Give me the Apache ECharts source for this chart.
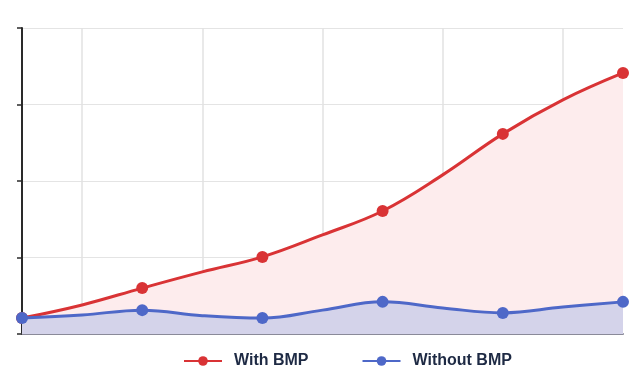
<!DOCTYPE html>
<html>
<head>
<meta charset="utf-8">
<script src="https://cdn.jsdelivr.net/npm/echarts@6/dist/echarts.min.js"></script>
<style>
  html, body { margin: 0; padding: 0; background: #fff; }
  #chart { width: 640px; height: 390px; }
</style>
</head>
<body>
<div id="chart"></div>
<script>
// 11 sample positions, markers only on even ones
const steps = ['0', '1', '2', '3', '4', '5', '6', '7', '8', '9', '10'];
const withBmp = [5.2, 9.5, 15, 20.3, 25.2, 32.4, 40.2, 52, 65.4, 76.5, 85.3];
const withoutBmp = [5.2, 6.2, 7.8, 6, 5.2, 7.8, 10.5, 8.5, 6.9, 8.8, 10.5];

const markEven = (v, p) => (p.dataIndex % 2 === 0 ? 12 : 0);

const chart = echarts.init(document.getElementById('chart'));
chart.setOption({
  animation: false,
  grid: { left: 22, right: 17, top: 28, bottom: 56 },
  legend: {
    bottom: 16,
    left: 178,
    itemWidth: 38,
    itemHeight: 12,
    itemGap: 53,
    textStyle: {
      color: '#1e2a44',
      fontSize: 16,
      fontWeight: 'bold',
      fontFamily: 'Liberation Sans, Arial, sans-serif',
      padding: [0, 0, 0, 7]
    },
    data: ['With BMP', 'Without BMP']
  },
  xAxis: {
    type: 'category',
    data: steps,
    boundaryGap: false,
    axisLine: { lineStyle: { color: '#8a8a99', width: 2 } },
    axisTick: { show: false },
    axisLabel: { show: false },
    splitLine: {
      show: true,
      interval: (i) => i % 2 === 1,
      lineStyle: { color: '#e2e2e2', width: 1.5 }
    }
  },
  yAxis: {
    type: 'value',
    min: 0,
    max: 100,
    interval: 25,
    axisLine: { show: true, lineStyle: { color: '#2a2a2a', width: 2 } },
    axisTick: { show: true, length: 5, lineStyle: { color: '#2a2a2a', width: 1.5 } },
    axisLabel: { show: false },
    splitLine: { lineStyle: { color: '#e4e4e4' } }
  },
  series: [
    {
      name: 'With BMP',
      type: 'line',
      data: withBmp,
      smooth: 0.4,
      symbol: 'circle',
      symbolSize: markEven,
      itemStyle: { color: '#d93335' },
      lineStyle: { color: '#d93335', width: 3 },
      areaStyle: { color: '#fdeced', opacity: 1 },
      z: 2
    },
    {
      name: 'Without BMP',
      type: 'line',
      data: withoutBmp,
      smooth: 0.4,
      symbol: 'circle',
      symbolSize: markEven,
      itemStyle: { color: '#4e68c8' },
      lineStyle: { color: '#4e68c8', width: 3 },
      areaStyle: { color: '#d4d3ea', opacity: 1 },
      z: 3
    }
  ]
});
</script>
</body>
</html>
